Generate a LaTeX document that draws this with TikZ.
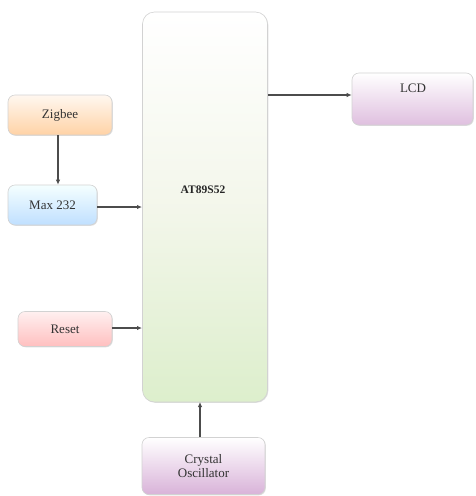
\documentclass[tikz,border=0pt]{standalone}
\usepackage{fontspec}
\setmainfont{Liberation Serif}
\usetikzlibrary{arrows.meta,shadows}
\begin{document}
\begin{tikzpicture}[x=1pt,y=-1pt,
  blk/.style={rounded corners=7pt,draw=gray!35,line width=0.6pt,
    drop shadow={shadow xshift=0.8pt,shadow yshift=-0.8pt,opacity=0.25},
    font=\fontsize{13}{13.5}\selectfont,text=black!80,align=center},
  conn/.style={draw=black!70,line width=1.1pt,-{Latex[length=5pt,width=4.5pt]}}]
\useasboundingbox (0,0) rectangle (476,496);
\fill[white] (0,0) rectangle (476,496);
% main block
\node[blk,rounded corners=12pt,minimum width=125pt,minimum height=390pt,
  top color=white,bottom color=green!35!olive!20!white,
  middle color=green!15!olive!8!white] (mcu) at (205,207) {};
\node[font=\bfseries\fontsize{11.5}{12}\selectfont,text=black!85] (lbl) at (203,190) {AT89S52};
% side blocks
\node[blk,minimum width=104pt,minimum height=40pt,
  top color=orange!6!white,bottom color=orange!35!white] (zig) at (60,115) {Zigbee};
\node[blk,minimum width=89pt,minimum height=40pt,
  top color=cyan!4!white,bottom color=cyan!50!blue!25!white] (max) at (52.5,205) {Max 232};
\node[blk,minimum width=94pt,minimum height=35pt,
  top color=red!6!white,bottom color=red!25!white] (rst) at (65,329) {Reset};
\node[blk,minimum width=121pt,minimum height=52pt,
  top color=white,bottom color=violet!25!white] (lcd) at (412.5,99) {};
\node[font=\fontsize{13}{13.5}\selectfont,text=black!80] (lcdt) at (413,88) {LCD};
\node[blk,minimum width=123pt,minimum height=57pt,
  top color=white,bottom color=violet!30!white] (osc) at (203.5,466) {Crystal\\Oscillator};
% connectors
\coordinate (mcuR) at (268,95);
\coordinate (mcuL1) at (142,207);
\coordinate (mcuL2) at (142,328);
\coordinate (mcuB) at (200,402);
\draw[conn] (mcuR) -- (lcd.west |- mcuR);
\draw[conn] (zig.south -| 58,0) -- (max.north -| 58,0);
\draw[conn] (max.east |- mcuL1) -- (mcuL1);
\draw[conn] (rst.east |- mcuL2) -- (mcuL2);
\draw[conn] (osc.north -| mcuB) -- (mcuB);
\end{tikzpicture}
\end{document}
